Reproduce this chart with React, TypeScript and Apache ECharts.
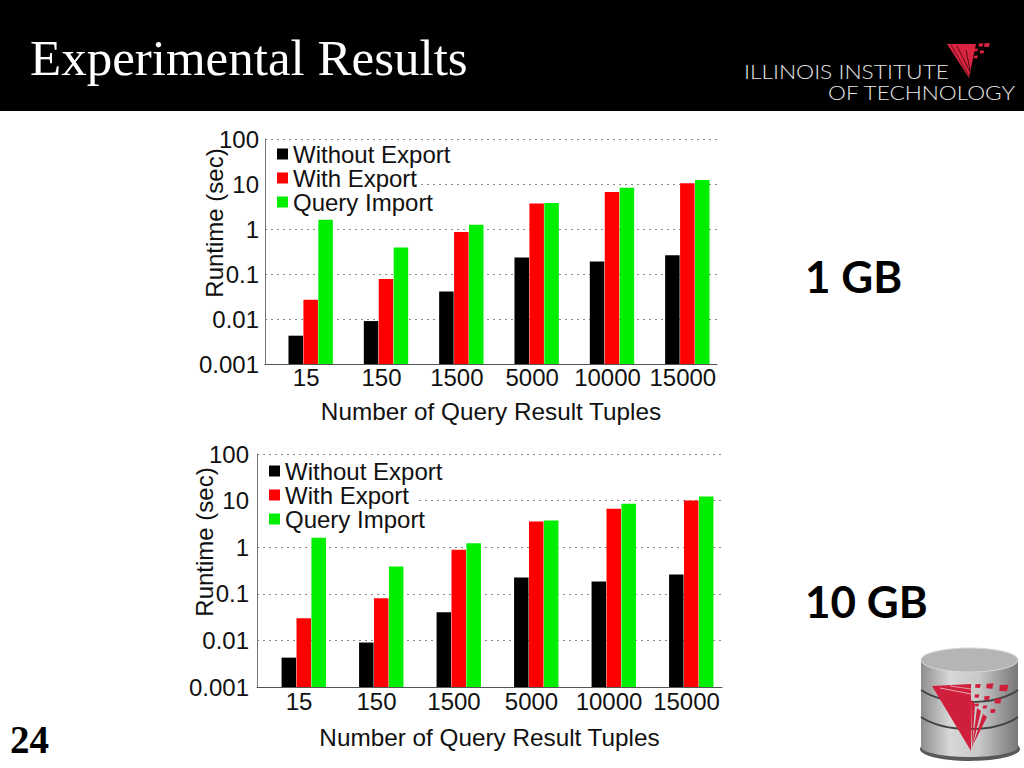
import React, { useEffect, useRef } from "react";
import * as echarts from "echarts";

const categories = ["15", "150", "1500", "5000", "10000", "15000"];
const seriesNames = ["Without Export", "With Export", "Query Import"];
const seriesColors = ["#000000", "#ff0000", "#00ee00"];
const yMin = 0.001;
const yMax = 100;

const gb1Without = [0.00426, 0.009, 0.041, 0.233, 0.19, 0.262];
const gb1With = [0.0268, 0.077, 0.863, 3.67, 6.67, 10.4];
const gb1Import = [1.6, 0.388, 1.24, 3.8, 8.3, 12.3];

const gb10Without = [0.00427, 0.009, 0.04, 0.224, 0.184, 0.26];
const gb10With = [0.03, 0.08, 0.88, 3.57, 6.68, 10.1];
const gb10Import = [1.6, 0.385, 1.22, 3.76, 8.57, 12.3];

const xTitle = "Number of Query Result Tuples";
const yTitle = "Runtime (sec)";
const SANS = "'Liberation Sans', Arial, sans-serif";
const SERIF = "'Liberation Serif', 'Times New Roman', serif";

function frameAxes(gridIndex: number, yMargin: number, yNameGap: number, xMargin: number, xNameGap: number, shift: number) {
  return {
    x: {
      type: "category", gridIndex, data: categories, boundaryGap: true,
      axisLine: { show: true, lineStyle: { color: "#555", width: 1 } },
      axisTick: { show: false },
      axisLabel: { show: true, color: "#111", fontSize: 24, fontFamily: SANS, margin: xMargin, interval: 0, padding: [0, 0, 0, shift] },
      name: xTitle, nameLocation: "middle", nameGap: xNameGap, nameMoveOverlap: false,
      nameTextStyle: { color: "#111", fontSize: 24.3, fontFamily: SANS },
    },
    y: {
      type: "log", logBase: 10, gridIndex, min: yMin, max: yMax, startValue: yMin,
      axisLine: { show: true, lineStyle: { color: "#777", width: 1 } },
      axisTick: { show: false },
      axisLabel: { color: "#111", fontSize: 24, fontFamily: SANS, margin: yMargin, formatter: (v: number) => String(+v.toPrecision(1)) },
      splitLine: { show: true, lineStyle: { type: [2, 4], color: "#888", width: 1 } },
      minorSplitLine: { show: false },
      name: yTitle, nameLocation: "middle", nameGap: yNameGap, nameRotate: 90, nameMoveOverlap: false,
      nameTextStyle: { color: "#111", fontSize: 24, fontFamily: SANS, padding: [0, 0, 0, 57] },
    },
  };
}

function barAxes(gridIndex: number) {
  return {
    x: { type: "category", gridIndex, data: categories, show: false },
    y: { type: "log", logBase: 10, gridIndex, min: yMin, max: yMax, startValue: yMin, show: false, splitLine: { show: false } },
  };
}

function bars(values: number[][], axisIndex: number, barWidth: number) {
  return values.map((data, i) => ({
    type: "bar", name: seriesNames[i], data, xAxisIndex: axisIndex, yAxisIndex: axisIndex,
    barWidth, barGap: "3%", itemStyle: { color: seriesColors[i] },
  }));
}

function legendAt(left: number, top: number) {
  return {
    show: true, orient: "vertical", left, top, padding: 0, itemGap: 0, itemWidth: 11, itemHeight: 11, icon: "rect",
    data: seriesNames, selectedMode: false,
    textStyle: { color: "#111", fontSize: 24, fontFamily: SANS, lineHeight: 24 },
  };
}

function graphics() {
  const txt = (text: string, x: number, y: number, fontSize: number, fontFamily: string, fill: string, fontWeight: any = "normal", scaleX = 1) => ({
    type: "text", x, y, z: 20, scaleX, style: { text, fontSize, fontFamily, fill, fontWeight, textVerticalAlign: "middle" },
  });
  const poly = (points: number[][], fill: string, z = 21) => ({ type: "polygon", z, shape: { points }, style: { fill } });
  const line = (x1: number, y1: number, x2: number, y2: number, stroke: string, lineWidth: number, z = 22) => ({ type: "line", z, shape: { x1, y1, x2, y2 }, style: { stroke, lineWidth } });
  const square = (cx: number, cy: number, r: number, fill: string, z = 23) => poly([[cx - r, cy - r * 0.7], [cx + r * 1.1, cy - r * 0.8], [cx + r * 0.7, cy + r * 0.8], [cx - r * 1.1, cy + r * 0.7]], fill, z);
  const RED = "#d01f3c";
  const metal = new echarts.graphic.LinearGradient(0, 0, 1, 0, [
    { offset: 0, color: "#8d8d8d" }, { offset: 0.3, color: "#d8d8d8" }, { offset: 0.6, color: "#c8c8c8" }, { offset: 1, color: "#777777" },
  ]);
  return [
    { type: "rect", z: 10, shape: { x: 0, y: 0, width: 1024, height: 111 }, style: { fill: "#000" } },
    { type: "rect", z: 1, shape: { x: 266, y: 176, width: 146, height: 16 }, style: { fill: "#fff" } },
    { type: "rect", z: 1, shape: { x: 258, y: 492, width: 157, height: 16 }, style: { fill: "#fff" } },
    txt("Experimental Results", 30, 58, 51, SERIF, "#ffffff"),
    txt("ILLINOIS INSTITUTE", 744, 71, 19, "Lato", "#e6e6e6", 300, 1.2),
    txt("OF TECHNOLOGY", 828, 92, 19, "Lato", "#e6e6e6", 300, 1.19),
    poly([[947, 44], [976, 44], [969, 78]], "#d9233f"),
    line(951, 45, 969, 76, "#000", 0.5), line(957, 46, 970, 72, "#000", 0.6), line(966, 50, 970, 70, "#000", 0.6),
    square(981, 45, 2.2, "#d9233f"), square(987, 45, 2.6, "#d9233f"), square(976, 50, 1.8, "#d9233f"), square(982, 52, 2, "#d9233f"), square(976, 57, 1.8, "#d9233f"),
    txt("1 GB", 805, 276, 44, "Lato", "#000000", "bold"),
    txt("10 GB", 805, 601, 44, "Lato", "#000000", "bold"),
    txt("24", 10, 739, 39, SERIF, "#000000", "bold"),
    { type: "ellipse", z: 18, shape: { cx: 970, cy: 749, rx: 50, ry: 12 }, style: { fill: "#222", opacity: 0.75 } },
    { type: "rect", z: 19, shape: { x: 921, y: 660, width: 97, height: 88 }, style: { fill: metal } },
    { type: "ellipse", z: 19, shape: { cx: 969.5, cy: 747, rx: 48.5, ry: 10 }, style: { fill: metal } },
    { type: "ellipse", z: 20, shape: { cx: 969.5, cy: 660, rx: 48.5, ry: 12 }, style: { fill: "#b5b5b5", stroke: "#d8d8d8", lineWidth: 1 } },
    { type: "bezierCurve", z: 21, shape: { x1: 921, y1: 690, x2: 1018, y2: 690, cpx1: 945, cpy1: 706, cpx2: 995, cpy2: 706 }, style: { stroke: "#444", lineWidth: 2, fill: "none" } },
    { type: "bezierCurve", z: 21, shape: { x1: 921, y1: 717, x2: 1018, y2: 717, cpx1: 945, cpy1: 733, cpx2: 995, cpy2: 733 }, style: { stroke: "#444", lineWidth: 2, fill: "none" } },
    poly([[932, 686], [971, 684], [971, 751]], RED, 24),
    poly([[971, 700], [975, 704], [972, 750]], RED, 24),
    poly([[977, 708], [981, 711], [972, 748]], RED, 24),
    poly([[983, 714], [987, 717], [973, 745]], RED, 24),
    line(940, 688, 971, 694, "#e8d0d0", 0.8, 25), line(950, 686, 971, 689, "#e8d0d0", 0.7, 25),
    square(978, 686, 2.6, RED, 24), square(990, 686, 3.3, RED, 24), square(1004, 688, 4.2, RED, 24),
    square(977, 696, 2.2, RED, 24), square(987, 698, 2.6, RED, 24), square(998, 701, 3.2, RED, 24),
    square(977, 705, 1.8, RED, 24), square(985, 707, 2, RED, 24), square(993, 711, 2.4, RED, 24),
  ];
}

export default function App() {
  const ref = useRef<HTMLDivElement>(null);
  useEffect(() => {
    document.body.style.margin = "0";
    document.body.style.background = "#fff";
    const chart = echarts.init(ref.current!, undefined, { renderer: "svg" });
    const b1 = barAxes(0);
    const f1 = frameAxes(1, 6, 39, 1, 35, 7);
    const b2 = barAxes(2);
    const f2 = frameAxes(3, 8, 41, 2, 38, 6.5);
    chart.setOption({
      animation: false,
      backgroundColor: "#ffffff",
      grid: [
        { left: 273, top: 139, width: 452, height: 225, containLabel: false },
        { left: 265, top: 139, width: 452, height: 225, containLabel: false },
        { left: 265, top: 454, width: 465, height: 233, containLabel: false },
        { left: 257, top: 454, width: 465, height: 233, containLabel: false },
      ],
      xAxis: [b1.x, f1.x, b2.x, f2.x],
      yAxis: [b1.y, f1.y, b2.y, f2.y],
      legend: [legendAt(277, 142), legendAt(269, 459)],
      series: [...bars([gb1Without, gb1With, gb1Import], 0, 14.5), ...bars([gb10Without, gb10With, gb10Import], 2, 14.5)],
      graphic: graphics(),
    });
    return () => chart.dispose();
  }, []);
  return <div ref={ref} style={{ position: "absolute", left: 0, top: 0, width: 1024, height: 768 }} />;
}
